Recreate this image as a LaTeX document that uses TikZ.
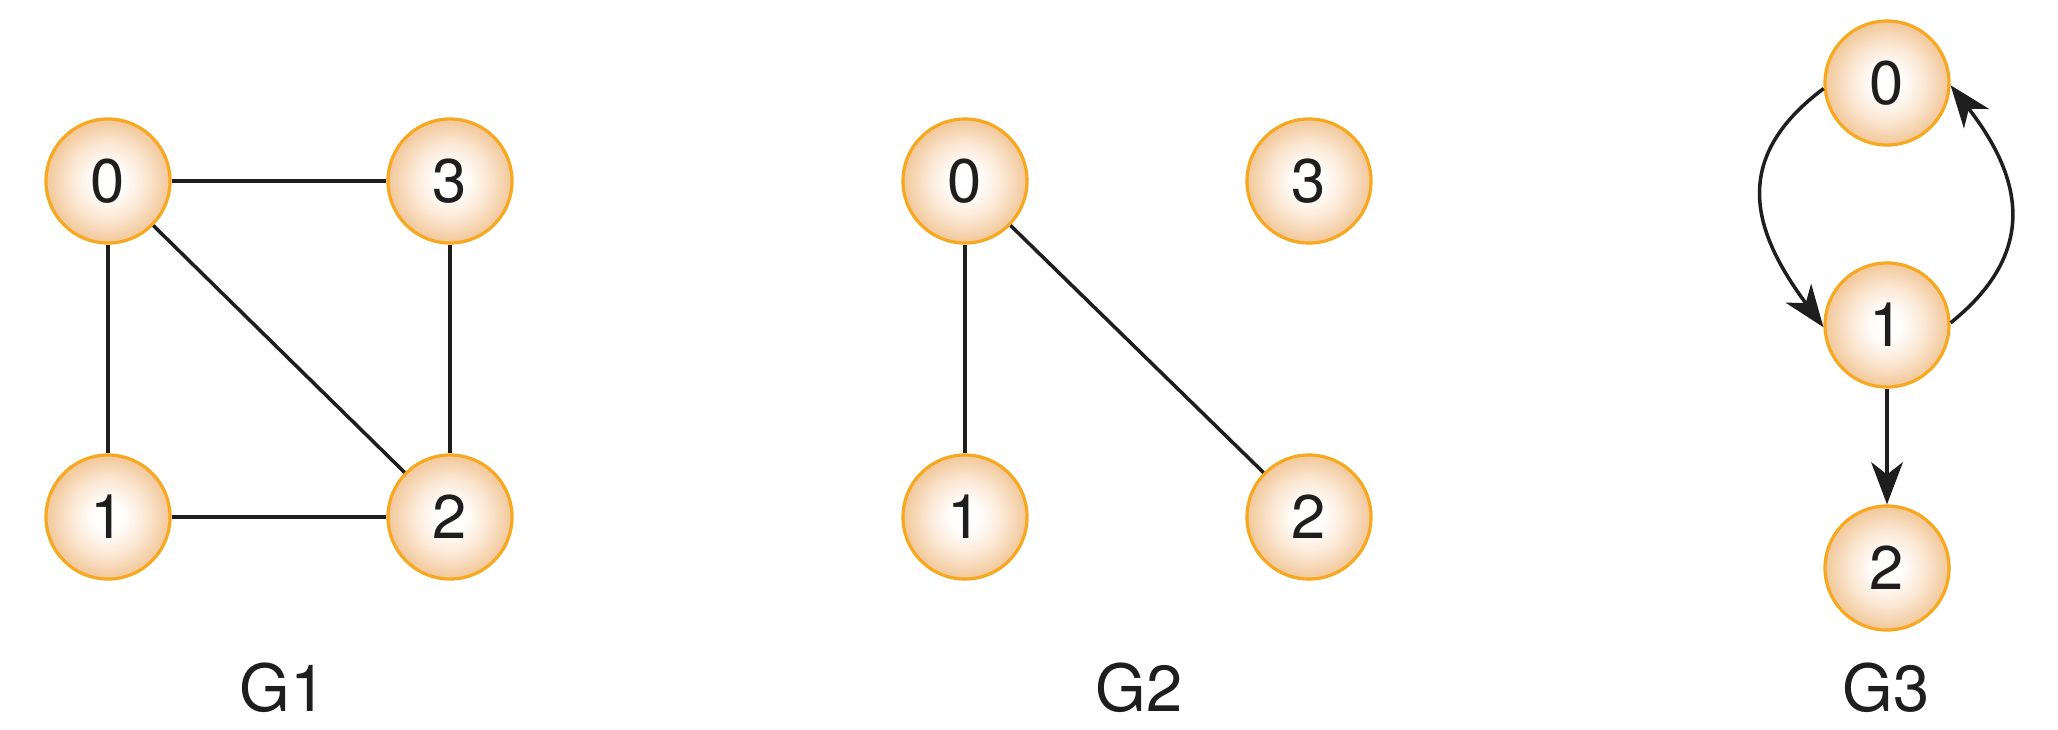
\documentclass[tikz,border=0pt]{standalone}
\usepackage{fontspec}
\setmainfont{TeX Gyre Heros}
\usetikzlibrary{arrows.meta}
\definecolor{ringorange}{RGB}{247,168,30}
\definecolor{peach}{RGB}{242,199,153}
\definecolor{cream}{RGB}{251,232,212}
\definecolor{ink}{RGB}{30,30,30}
% soft glow: white core fading to peach at the rim
\pgfdeclareradialshading{glow}{\pgfpoint{0bp}{0bp}}{%
  color(0bp)=(white); color(6bp)=(white!94!cream); color(15bp)=(cream);
  color(25bp)=(peach); color(50bp)=(peach)}
\tikzset{headtip/.tip={Stealth[length=12pt,width=9pt,inset=3.5pt]}}
\begin{document}
\begin{tikzpicture}[x=0.01cm,y=-0.01cm,
  vertex/.style={circle,minimum size=1.24cm,inner sep=0pt,draw=ringorange,line width=0.9pt,
    shading=glow,font=\fontsize{17.5}{20}\selectfont,text=ink},
  caption/.style={font=\fontsize{18.5}{22}\selectfont,text=ink},
  link/.style={draw=ink,line width=1pt},
  arc/.style={link,-headtip}]
\useasboundingbox (0,0) rectangle (2058,729);
% G1
\node[vertex] (a0) at (108,181) {0};
\node[vertex] (a3) at (450,181) {3};
\node[vertex] (a1) at (108,517) {1};
\node[vertex] (a2) at (450,517) {2};
\draw[link] (a0) -- (a3);
\draw[link] (a0) -- (a1);
\draw[link] (a0) -- (a2);
\draw[link] (a3) -- (a2);
\draw[link] (a1) -- (a2);
\node[caption] (g1) at (283,688) {G1};
% G2
\node[vertex] (b0) at (965,181) {0};
\node[vertex] (b3) at (1309,181) {3};
\node[vertex] (b1) at (965,517) {1};
\node[vertex] (b2) at (1309,517) {2};
\draw[link] (b0) -- (b1);
\draw[link] (b0) -- (b2);
\node[caption] (g2) at (1139,688) {G2};
% G3
\node[vertex] (c0) at (1887,83) {0};
\node[vertex] (c1) at (1887,325) {1};
\node[vertex] (c2) at (1887,568) {2};
\draw[arc] (c0.185) .. controls +(-95,71) and +(-70,-95) .. (c1.182);
\draw[arc] (c1.2) .. controls +(95,-76) and +(65,84) .. (c0.358);
\draw[arc] (c1) -- (c2);
\node[caption] (g3) at (1886,688) {G3};
\end{tikzpicture}
\end{document}
